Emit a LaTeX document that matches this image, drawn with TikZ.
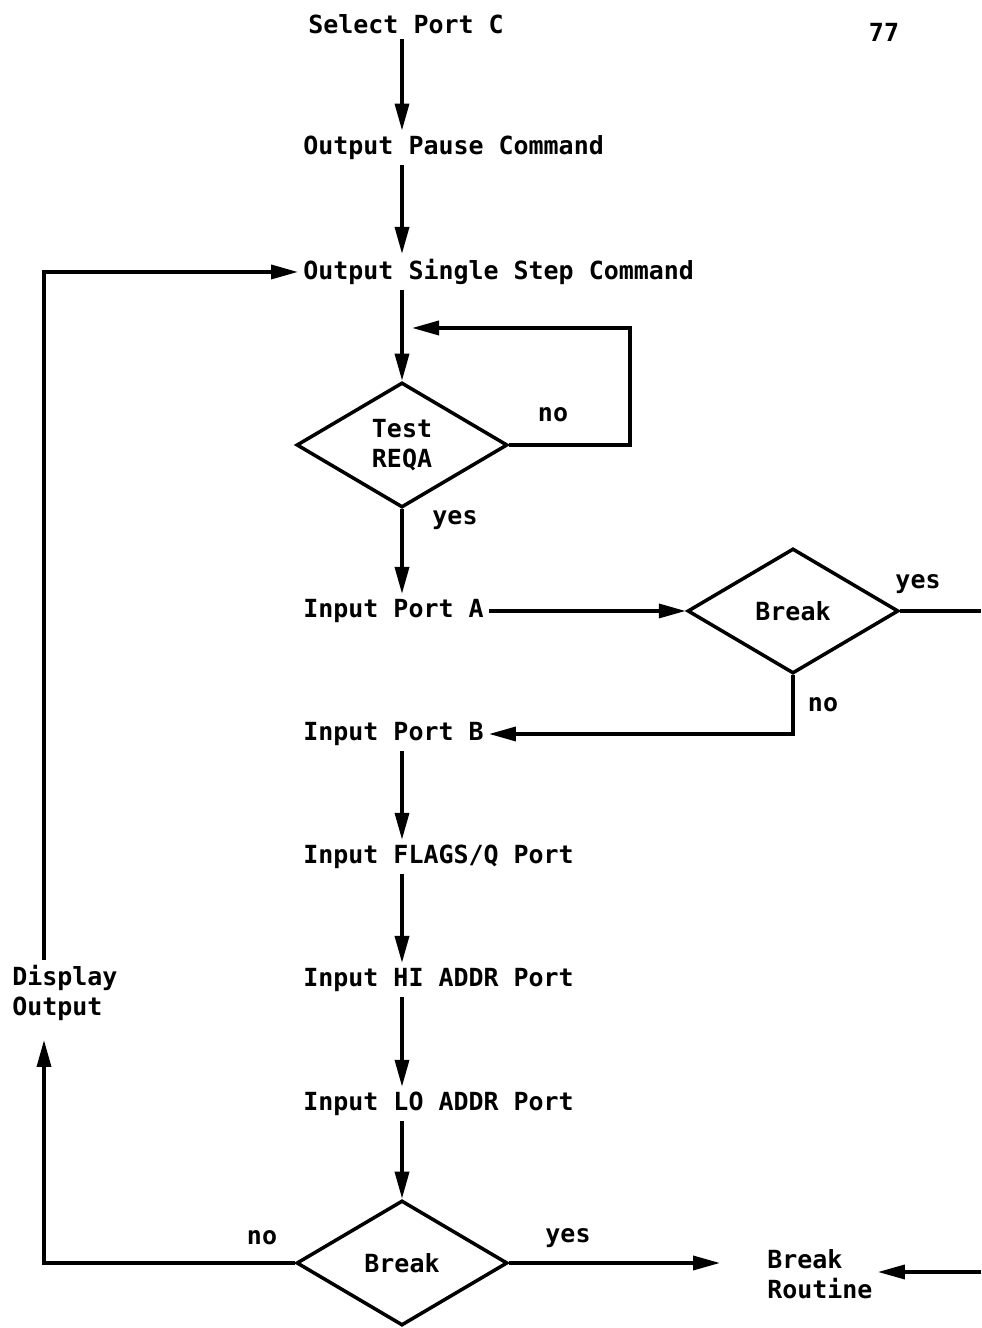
\documentclass[tikz,border=0pt]{standalone}
\usepackage{fontspec}
\setmonofont{DejaVu Sans Mono}
\usepackage{tikz}
\usetikzlibrary{arrows.meta, shapes.geometric}

\newcommand{\flowfont}{\ttfamily\bfseries\fontsize{14.2}{17}\selectfont}

\tikzset{
  steptext/.style={anchor=west, inner sep=0.1cm, font=\flowfont},
  decision/.style={diamond, draw, line width=2pt, minimum width=4.22cm, minimum height=2.5cm, inner sep=0pt, align=center, font=\flowfont},
  flow/.style={line width=2pt, -{Triangle[length=0.54cm, width=0.28cm]}},
  plainline/.style={line width=2pt},
  answer/.style={font=\flowfont}
}

\begin{document}
\begin{tikzpicture}
    \useasboundingbox (0,0) rectangle (19.62,26.56);

    % Main column
    \node[steptext] (sel) at (6.06,26.08) {Select Port C};
    \node[steptext] (pause) at (5.96,23.6) {Output Pause Command};
    \node[steptext] (sstep) at (5.96,21.12) {Output Single Step Command};
    \node[decision] (reqa) at (8.04,17.66) {Test\\REQA};
    \node[steptext] (porta) at (5.96,14.34) {Input Port A};
    \node[steptext] (portb) at (5.96,11.88) {Input Port B};
    \node[steptext] (flags) at (5.96,9.42) {Input FLAGS/Q Port};
    \node[steptext] (hiaddr) at (5.96,6.96) {Input HI ADDR Port};
    \node[steptext] (loaddr) at (5.96,4.48) {Input LO ADDR Port};
    \node[decision] (brkb) at (8.04,1.3) {Break};

    % Side nodes
    \node[decision] (brka) at (15.86,14.34) {Break};
    \node[steptext, align=left] (disp) at (0.14,6.7) {Display\\Output};
    \node[steptext, align=left] (brkrt) at (15.24,1.08) {Break\\Routine};
    \node[answer] (page) at (17.68,25.92) {77};

    % Free ends
    \coordinate (loopc) at (12.6,20.0);
    \coordinate (loopin) at (8.24,20.0);
    \coordinate (brkaout) at (19.62,14.34);
    \coordinate (dispin) at (0.88,5.76);
    \coordinate (brkin) at (14.4,1.3);
    \coordinate (brkfrom) at (19.62,1.12);

    % Straight flow
    \draw[flow] (sel.south -| reqa.north) -- (pause.north -| reqa.north);
    \draw[flow] (pause.south -| reqa.north) -- (sstep.north -| reqa.north);
    \draw[flow] (sstep.south -| reqa.north) -- (reqa.north);
    \draw[flow] (reqa.south) -- (porta.north -| reqa.south);
    \draw[flow] (portb.south -| reqa.south) -- (flags.north -| reqa.south);
    \draw[flow] (flags.south -| reqa.south) -- (hiaddr.north -| reqa.south);
    \draw[flow] (hiaddr.south -| reqa.south) -- (loaddr.north -| reqa.south);
    \draw[flow] (loaddr.south -| brkb.north) -- (brkb.north);

    % REQA wait loop
    \draw[flow] (reqa.east) -| (loopc) -- (loopin);
    \node[answer] at (11.06,18.26) {no};
    \node[answer] at (9.1,16.16) {yes};

    % Break test after Port A
    \draw[flow] (porta.east) -- (brka.west);
    \draw[plainline] (brka.east) -- (brkaout);
    \node[answer] at (18.36,14.88) {yes};
    \draw[flow] (brka.south) |- (portb.east);
    \node[answer] at (16.46,12.46) {no};

    % Break test at the end
    \draw[flow] (brkb.west) -| (dispin);
    \node[answer] at (5.24,1.8) {no};
    \draw[flow] (disp.north -| dispin) |- (sstep.west);
    \draw[flow] (brkb.east) -- (brkin);
    \node[answer] at (11.36,1.8) {yes};
    \draw[flow] (brkfrom) -- (brkrt.east |- brkfrom);
\end{tikzpicture}
\end{document}
